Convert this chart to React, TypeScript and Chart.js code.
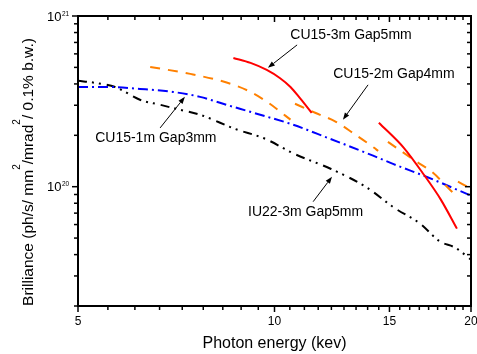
import React, { useEffect, useRef } from "react";
import { Chart, registerables } from "chart.js";

Chart.register(...registerables);

const FONT = "'Liberation Sans', Arial, Helvetica, sans-serif";

// ---- axes ----
const X_MIN = 5;
const X_MAX = 20;
const Y_MIN = 2e19;
const Y_MAX = 1e21;

const xTickLabels = [5, 10, 15, 20];
const xMinorTicks = [
  5.556, 6.111, 6.667, 7.222, 7.778, 8.333, 8.889, 9.444,
  10.556, 11.111, 11.667, 12.222, 12.778, 13.333, 13.889, 14.444,
  15.556, 16.111, 16.667, 17.222, 17.778, 18.333, 18.889, 19.444,
];
const yMajorTicks = [1e20, 1e21];
const yTickExponents = ["20", "21"];
const yMinorTicks = [
  2e19, 3e19, 4e19, 5e19, 6e19, 7e19, 8e19, 9e19,
  2e20, 3e20, 4e20, 5e20, 6e20, 7e20, 8e20, 9e20,
];

const xTitle = "Photon energy (kev)";
const yTitleParts: [string, boolean][] = [
  ["Brilliance (ph/s/ mm", false],
  ["2", true],
  ["/mrad", false],
  ["2", true],
  ["/ 0.1% b.w.)", false],
];

// ---- data (photon energy keV, brilliance) ----
// CU15-3m Gap5mm
const cu15_3m_a_E = [8.65, 9.19, 9.73, 10.2, 10.58, 10.94, 11.4];
const cu15_3m_a_B = [5.68e20, 5.31e20, 4.83e20, 4.32e20, 3.84e20, 3.3e20, 2.71e20];
const cu15_3m_b_E = [14.45, 15.78, 16.94, 17.98, 19.03];
const cu15_3m_b_B = [2.37e20, 1.69e20, 1.175e20, 8.4e19, 5.68e19];

// CU15-2m Gap4mm
const cu15_2m_a_E = [6.45, 7.43, 8.47, 9.19, 9.79, 10.4, 10.58];
const cu15_2m_a_B = [5.03e20, 4.58e20, 4.06e20, 3.59e20, 3.1e20, 2.6e20, 2.47e20];
const cu15_2m_b_E = [10.75, 11.54, 12.42, 13.24, 14.21, 14.41];
const cu15_2m_b_B = [3.06e20, 2.71e20, 2.4e20, 2.04e20, 1.69e20, 1.62e20];
const cu15_2m_c_E = [14.92, 16.42, 17.43, 18.57, 18.77];
const cu15_2m_c_B = [1.83e20, 1.42e20, 1.22e20, 9.6e19, 9.22e19];
const cu15_2m_d_E = [19.1, 20.0];
const cu15_2m_d_B = [1.07e20, 9.74e19];

// CU15-1m Gap3mm
const cu15_1m_E = [5.0, 5.56, 6.22, 6.99, 7.69, 8.25, 8.85, 9.74, 10.67, 12.03, 14.16, 15.19, 17.12, 20.0];
const cu15_1m_B = [3.84e20, 3.84e20, 3.74e20, 3.59e20, 3.36e20, 3.1e20, 2.86e20, 2.57e20, 2.31e20, 1.94e20, 1.52e20, 1.36e20, 1.14e20, 8.86e19];

// IU22-3m Gap5mm
const iu22_3m_E = [5.0, 5.31, 5.7, 6.22, 6.68, 7.17, 7.69, 8.7, 9.67, 10.71, 12.21, 13.86, 15.24, 16.71, 17.93, 18.9, 20.0];
const iu22_3m_B = [4.17e20, 4.06e20, 3.84e20, 3.23e20, 3.02e20, 2.82e20, 2.64e20, 2.18e20, 1.91e20, 1.56e20, 1.27e20, 9.87e19, 7.54e19, 6.08e19, 4.77e19, 4.4e19, 3.74e19];

// ---- annotations (data coordinates: text baseline centre, arrow tail, arrow tip) ----
const annotations = [
  { text: "CU15-3m Gap5mm", at: [13.1, 7.29e20], from: [10.83, 6.77e20], to: [9.77, 4.97e20] },
  { text: "CU15-2m Gap4mm", at: [15.24, 4.32e20], from: [13.91, 3.95e20], to: [12.73, 2.47e20] },
  { text: "CU15-1m Gap3mm", at: [6.58, 1.82e20], from: [6.68, 2.21e20], to: [7.29, 3.36e20] },
  { text: "IU22-3m Gap5mm", at: [11.16, 6.72e19], from: [11.46, 8.17e19], to: [12.25, 1.144e20] },
];

const RED = "#FF0000";
const ORANGE = "#FF8000";
const BLUE = "#0000FF";
const BLACK = "#000000";

function seg(E: number[], B: number[], color: string, dash: number[]) {
  return {
    data: E.map((e, i) => ({ x: e, y: B[i] })),
    showLine: true,
    borderColor: color,
    backgroundColor: color,
    borderWidth: 2,
    borderDash: dash,
    borderCapStyle: "butt",
    pointRadius: 0,
    pointHoverRadius: 0,
    cubicInterpolationMode: "monotone",
    fill: false,
  };
}

function drawArrow(ctx: CanvasRenderingContext2D, x1: number, y1: number, x2: number, y2: number) {
  const ang = Math.atan2(y2 - y1, x2 - x1);
  const hl = 7;
  const hw = 2.6;
  const bx = x2 - hl * Math.cos(ang);
  const by = y2 - hl * Math.sin(ang);
  ctx.beginPath();
  ctx.moveTo(x1, y1);
  ctx.lineTo(bx, by);
  ctx.stroke();
  ctx.beginPath();
  ctx.moveTo(x2, y2);
  ctx.lineTo(bx + hw * Math.sin(ang), by - hw * Math.cos(ang));
  ctx.lineTo(bx - hw * Math.sin(ang), by + hw * Math.cos(ang));
  ctx.closePath();
  ctx.fill();
}

const decorPlugin = {
  id: "decor",
  afterDraw(chart: any) {
    const { ctx, chartArea: ca, scales } = chart;
    const xs = scales.x;
    const ys = scales.y;
    ctx.save();
    ctx.strokeStyle = "#000";
    ctx.fillStyle = "#000";
    ctx.setLineDash([]);

    const line = (a: number, b: number, c: number, d: number) => {
      ctx.beginPath();
      ctx.moveTo(a, b);
      ctx.lineTo(c, d);
      ctx.stroke();
    };

    // ticks
    ctx.lineWidth = 1.5;
    const xTick = (v: number, len: number) => {
      const px = xs.getPixelForValue(v);
      line(px, ca.bottom, px, ca.bottom + len);
      line(px, ca.top, px, ca.top + len);
    };
    const yTick = (v: number, len: number) => {
      const py = ys.getPixelForValue(v);
      line(ca.left, py, ca.left - len, py);
      line(ca.right, py, ca.right - len, py);
    };
    xTickLabels.forEach((v) => xTick(v, 6));
    xMinorTicks.forEach((v) => xTick(v, 4));
    yMajorTicks.forEach((v) => yTick(v, 6));
    yMinorTicks.forEach((v) => yTick(v, 4));

    // frame
    ctx.lineWidth = 2;
    ctx.strokeRect(ca.left, ca.top, ca.right - ca.left, ca.bottom - ca.top);

    // y tick labels 10^n
    yMajorTicks.forEach((v, i) => {
      const py = ys.getPixelForValue(v);
      ctx.font = `13px ${FONT}`;
      ctx.textAlign = "right";
      ctx.textBaseline = "alphabetic";
      ctx.fillText("10", ca.left - 16.5, py + 4.8);
      ctx.font = `6.5px ${FONT}`;
      ctx.textAlign = "left";
      ctx.fillText(yTickExponents[i], ca.left - 16, py - 0.5);
    });

    // y title with superscripts
    ctx.save();
    ctx.translate(33, (ca.top + ca.bottom) / 2 + 11);
    ctx.rotate(-Math.PI / 2);
    ctx.textAlign = "left";
    ctx.textBaseline = "alphabetic";
    let total = 0;
    yTitleParts.forEach(([t, sup]) => {
      ctx.font = sup ? `10px ${FONT}` : `15.5px ${FONT}`;
      total += ctx.measureText(t).width;
    });
    let cx = -total / 2;
    yTitleParts.forEach(([t, sup]) => {
      ctx.font = sup ? `10px ${FONT}` : `15.5px ${FONT}`;
      ctx.fillText(t, cx, sup ? -13 : 0);
      cx += ctx.measureText(t).width;
    });
    ctx.restore();

    // annotations
    ctx.lineWidth = 1;
    annotations.forEach((a) => {
      ctx.font = `14px ${FONT}`;
      ctx.textAlign = "center";
      ctx.textBaseline = "alphabetic";
      ctx.fillText(a.text, xs.getPixelForValue(a.at[0]), ys.getPixelForValue(a.at[1]));
      drawArrow(
        ctx,
        xs.getPixelForValue(a.from[0]),
        ys.getPixelForValue(a.from[1]),
        xs.getPixelForValue(a.to[0]),
        ys.getPixelForValue(a.to[1])
      );
    });
    ctx.restore();
  },
};

export default function App() {
  const ref = useRef<HTMLCanvasElement>(null);
  useEffect(() => {
    const canvas = ref.current!;
    const datasets: any[] = [
      seg(cu15_3m_a_E, cu15_3m_a_B, RED, []),
      seg(cu15_3m_b_E, cu15_3m_b_B, RED, []),
      seg(cu15_2m_a_E, cu15_2m_a_B, ORANGE, [10, 8]),
      seg(cu15_2m_b_E, cu15_2m_b_B, ORANGE, [10, 8]),
      seg(cu15_2m_c_E, cu15_2m_c_B, ORANGE, [10, 8]),
      seg(cu15_2m_d_E, cu15_2m_d_B, ORANGE, [10, 8]),
      seg(cu15_1m_E, cu15_1m_B, BLUE, [10, 4, 2, 4]),
      seg(iu22_3m_E, iu22_3m_B, BLACK, [9, 5, 2, 5, 2, 6]),
    ];
    const chart = new Chart(canvas, {
      type: "scatter",
      data: { datasets },
      options: {
        animation: false,
        responsive: false,
        devicePixelRatio: 1,
        layout: { autoPadding: false, padding: { left: 0, right: 6, top: 16, bottom: 0 } },
        plugins: { legend: { display: false }, tooltip: { enabled: false } },
        events: [],
        scales: {
          x: {
            type: "logarithmic",
            min: X_MIN,
            max: X_MAX,
            grid: { display: false, drawTicks: false },
            border: { display: false },
            afterBuildTicks: (s: any) => {
              s.ticks = xTickLabels.map((v) => ({ value: v }));
            },
            afterFit: (s: any) => {
              s.height = 48;
              s.paddingLeft = 0;
              s.paddingRight = 0;
              s.paddingTop = 0;
              s.paddingBottom = 0;
            },
            ticks: {
              callback: (v: any) => String(v),
              font: { family: FONT, size: 12 },
              color: "#000",
              padding: 8,
              maxRotation: 0,
              autoSkip: false,
            },
            title: {
              display: true,
              text: xTitle,
              font: { family: FONT, size: 16 },
              color: "#000",
              padding: { top: 0, bottom: 1 },
            },
          },
          y: {
            type: "logarithmic",
            min: Y_MIN,
            max: Y_MAX,
            grid: { display: false, drawTicks: false },
            border: { display: false },
            ticks: { display: false },
            afterFit: (s: any) => {
              s.width = 78;
              s.paddingLeft = 0;
              s.paddingRight = 0;
              s.paddingTop = 0;
              s.paddingBottom = 0;
            },
          },
        },
      } as any,
      plugins: [decorPlugin],
    });
    return () => chart.destroy();
  }, []);
  return (
    <div style={{ position: "absolute", left: 0, top: 0, width: 477, height: 354, background: "#fff" }}>
      <canvas ref={ref} width={477} height={354} style={{ display: "block", width: 477, height: 354 }} />
    </div>
  );
}
